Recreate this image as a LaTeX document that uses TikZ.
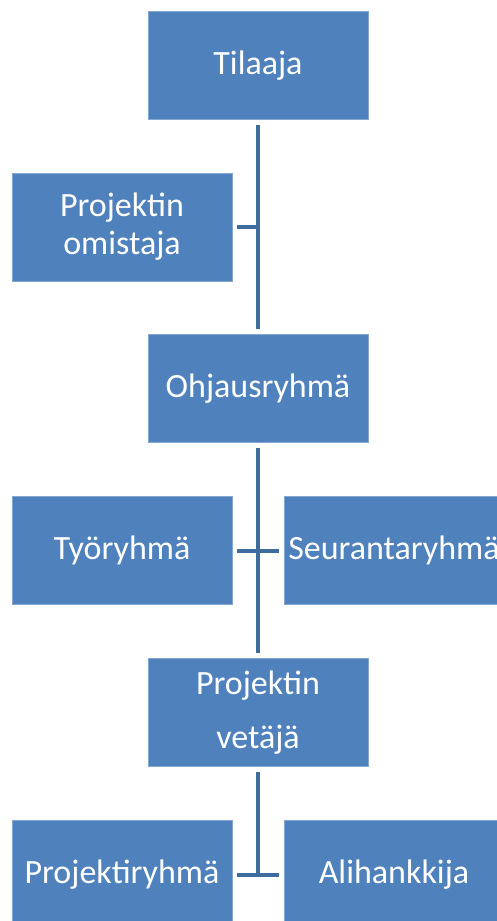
\documentclass[tikz,border=0pt]{standalone}
\usepackage{fontspec}
\setmainfont{Carlito}
\usepackage{tikz}
\usetikzlibrary{positioning}

\definecolor{boxblue}{HTML}{4F81BD}
\definecolor{linkblue}{HTML}{3F6C9E}

\begin{document}
\begin{tikzpicture}[x = 1pt, y = -1pt,
box/.style={rectangle, fill = boxblue, draw = boxblue!70!white, line width = 0.8pt,
  minimum width = 220pt, minimum height = 108pt, inner sep = 0pt,
  text = white, align = center, font = \fontsize{34}{38}\selectfont},
link/.style={draw = linkblue, line width = 4pt}]
\useasboundingbox (0,0) rectangle (496,921);
\node[box] (tilaaja) at (258,65.5) {Tilaaja};
\node[box] (omistaja) at (122,227) {Projektin\\omistaja};
\node[box] (ohjaus) at (258,388.5) {Ohjausryhmä};
\node[box] (tyo) at (122,550.5) {Työryhmä};
\node[box] (seuranta) at (394,550.5) {Seurantaryhmä};
\node[box, font = \fontsize{34}{54}\selectfont] (vetaja) at (258,712.5) {Projektin\\vetäjä};
\node[box] (projryhma) at (122,874.5) {Projektiryhmä};
\node[box] (alihankkija) at (394,874.5) {Alihankkija};
\draw[link, shorten <= 5pt, shorten >= 5pt] (tilaaja) to (ohjaus);
\draw[link, shorten <= 5pt, shorten >= -2pt] (omistaja.east) to (omistaja.east -| tilaaja.south);
\draw[link, shorten <= 5pt, shorten >= 5pt] (ohjaus) to (vetaja);
\draw[link, shorten <= 5pt, shorten >= 5pt] (tyo) to (seuranta);
\draw[link, shorten <= 5pt] (vetaja.south) to (vetaja.south |- projryhma.east);
\draw[link, shorten <= 5pt, shorten >= 5pt] (projryhma) to (alihankkija);
\end{tikzpicture}
\end{document}
